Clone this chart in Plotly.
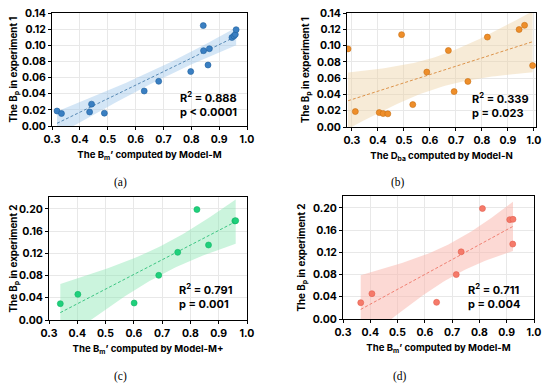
import numpy as np
import plotly.graph_objects as go

# ---- data ----
a_x = [0.318, 0.334, 0.435, 0.442, 0.488, 0.631, 0.683, 0.798, 0.843, 0.844, 0.860, 0.865, 0.946, 0.953, 0.958, 0.961]
a_y = [0.0186, 0.0155, 0.0174, 0.0271, 0.0159, 0.0434, 0.0554, 0.0675, 0.1245, 0.0934, 0.0756, 0.0958, 0.1097, 0.1117, 0.1135, 0.1194]

b_x = [0.285, 0.313, 0.405, 0.420, 0.438, 0.491, 0.534, 0.588, 0.671, 0.693, 0.746, 0.821, 0.943, 0.964, 0.995]
b_y = [0.0960, 0.0190, 0.0177, 0.0165, 0.0162, 0.1135, 0.0275, 0.0675, 0.0940, 0.0435, 0.0560, 0.1105, 0.1198, 0.1250, 0.0755]

c_x = [0.340, 0.402, 0.601, 0.688, 0.755, 0.823, 0.864, 0.957, 0.960]
c_y = [0.0294, 0.0462, 0.0306, 0.0805, 0.1219, 0.1990, 0.1351, 0.1785, 0.1790]

d_x = [0.365, 0.406, 0.643, 0.715, 0.733, 0.811, 0.911, 0.923, 0.922]
d_y = [0.0294, 0.0456, 0.0300, 0.0800, 0.1210, 0.1990, 0.1790, 0.1796, 0.1350]

stats_text = ["R<sup>2</sup> = 0.888<br>p < 0.0001", "R<sup>2</sup> = 0.339<br>p = 0.023",
              "R<sup>2</sup> = 0.791<br>p = 0.001", "R<sup>2</sup> = 0.711<br>p = 0.004"]
x_titles = ["The B<sub>m</sub>’ computed by Model-M", "The D<sub>ba</sub> computed by Model-N",
            "The B<sub>m</sub>’ computed by Model-M+", "The B<sub>m</sub>’ computed by Model-M"]
y_titles = ["The B<sub>p</sub> in experiment 1", "The B<sub>p</sub> in experiment 1",
            "The B<sub>p</sub> in experiment 2", "The B<sub>p</sub> in experiment 2"]
captions = ["(a)", "(b)", "(c)", "(d)"]

T95 = {6: 2.447, 7: 2.365, 13: 2.160, 14: 2.145}

# page body has an 8px default margin: lay the figure out in a slightly smaller canvas
OFF = 8
W, H = 550 - OFF, 383 - OFF


def px_x(X):
    return min(1.0, max(0.0, (X - OFF) / W))


def px_y(Y):
    return min(1.0, max(0.0, 1 - (Y - OFF) / H))


FONT = "Inter"
fig = go.Figure()

panels = [
    dict(x=a_x, y=a_y, mc="#3a7fc2", me="#1f5f9e", lc="#4a7fae", band="rgba(160,200,236,0.45)",
         box=(52, 247, 13, 126), xr=[0.3, 1.0], yr=[0, 0.1401], dy=0.02,
         tx=0.752, ty=0.027, cap=(120, 182)),
    dict(x=b_x, y=b_y, mc="#ee8e2a", me="#c86f12", lc="#d9893a", band="rgba(236,208,160,0.42)",
         box=(347, 536, 13, 127), xr=[0.281, 1.008], yr=[0, 0.1401], dy=0.02,
         tx=0.753, ty=0.0265, cap=(398, 182)),
    dict(x=c_x, y=c_y, mc="#1fd07c", me="#10b565", lc="#2cbf78", band="rgba(140,230,180,0.45)",
         box=(49, 247, 197, 320), xr=[0.3, 1.0], yr=[0, 0.2216], dy=0.04,
         tx=0.752, ty=0.042, cap=(120, 376)),
    dict(x=d_x, y=d_y, mc="#f57a6a", me="#e35e4e", lc="#ee7566", band="rgba(250,180,170,0.5)",
         box=(343, 534, 196, 319), xr=[0.3, 1.0], yr=[0, 0.2216], dy=0.04,
         tx=0.751, ty=0.041, cap=(400, 376)),
]

for i, p in enumerate(panels):
    k = "" if i == 0 else str(i + 1)
    xa, ya = "x" + k, "y" + k
    x = np.array(p["x"]); y = np.array(p["y"])
    n = len(x)
    b1, b0 = np.polyfit(x, y, 1)
    xs = np.linspace(x.min(), x.max(), 60)
    yh = b0 + b1 * xs
    resid = y - (b0 + b1 * x)
    s = np.sqrt(np.sum(resid ** 2) / (n - 2))
    se = s * np.sqrt(1 / n + (xs - x.mean()) ** 2 / np.sum((x - x.mean()) ** 2))
    t = T95[n - 2]
    lo, hi = yh - t * se, yh + t * se
    fig.add_trace(go.Scatter(x=np.concatenate([xs, xs[::-1]]), y=np.concatenate([hi, lo[::-1]]),
                             fill="toself", fillcolor=p["band"], line=dict(width=0),
                             mode="lines", hoverinfo="skip", showlegend=False, xaxis=xa, yaxis=ya))
    fig.add_trace(go.Scatter(x=xs, y=yh, mode="lines", line=dict(color=p["lc"], width=0.9, dash="3px,2px"),
                             showlegend=False, xaxis=xa, yaxis=ya))
    fig.add_trace(go.Scatter(x=x, y=y, mode="markers",
                             marker=dict(color=p["mc"], size=6, line=dict(color=p["me"], width=0.6)),
                             showlegend=False, xaxis=xa, yaxis=ya))
    L, R, T, B = p["box"]
    axcommon = dict(showline=True, mirror=True, linecolor="black", linewidth=1, automargin=False,
                    ticks="outside", ticklen=3, tickcolor="black", gridcolor="#e8e8e8",
                    zeroline=False, ticklabeloverflow="allow",
                    tickfont=dict(family=FONT, size=10.5, color="black", weight="bold"))
    fig.update_layout(**{
        "xaxis" + k: dict(domain=[px_x(L), px_x(R)], range=p["xr"], dtick=0.1, tick0=0.3, tickformat=".1f",
                          anchor=ya,
                          title=dict(text=x_titles[i], standoff=6,
                                     font=dict(family=FONT, size=9.6, color="black", weight="bold")),
                          **axcommon),
        "yaxis" + k: dict(domain=[px_y(B), px_y(T)], range=p["yr"], dtick=p["dy"], tick0=0, tickformat=".2f",
                          anchor=xa,
                          title=dict(text=y_titles[i], standoff=5,
                                     font=dict(family=FONT, size=9.8, color="black", weight="bold")),
                          **axcommon),
    })
    fig.add_annotation(x=p["tx"], y=p["ty"], xref=xa, yref=ya, text=stats_text[i],
                       showarrow=False, xanchor="left", yanchor="middle", align="left",
                       font=dict(family=FONT, size=11, color="black", weight="bold"))
    cx, cy = p["cap"]
    fig.add_annotation(x=px_x(cx), y=px_y(cy), xref="paper", yref="paper", text=captions[i],
                       showarrow=False, xanchor="center", yanchor="middle",
                       font=dict(family="Liberation Serif", size=11.5, color="black"))

fig.update_layout(width=W, height=H, margin=dict(l=0, r=0, t=0, b=0),
                  paper_bgcolor="white", plot_bgcolor="white")
fig.write_html("out.html")
